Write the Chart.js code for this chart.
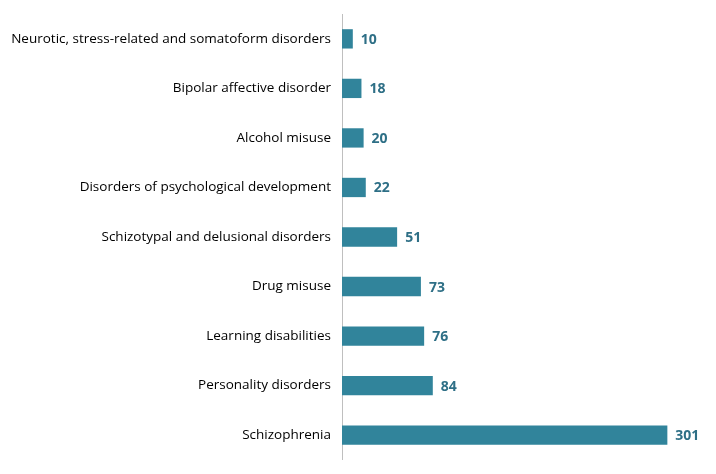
<!DOCTYPE html>
<html><head><meta charset="utf-8">
<script src="https://cdn.jsdelivr.net/npm/chart.js@4"></script>
<style>html,body{margin:0;padding:0;background:#fff}#w{width:716px;height:474px}</style>
</head><body><div id="w"><canvas id="c"></canvas></div>
<script>
const categories = ["Neurotic, stress-related and somatoform disorders","Bipolar affective disorder","Alcohol misuse","Disorders of psychological development","Schizotypal and delusional disorders","Drug misuse","Learning disabilities","Personality disorders","Schizophrenia"];
const values = [10,18,20,22,51,73,76,84,301];
const color = "#31849B";
const labelPlugin = {id:"lbl",afterDatasetsDraw(ch){const ctx=ch.ctx;const m=ch.getDatasetMeta(0);ctx.save();ctx.font="bold 14px 'Open Sans', sans-serif";ctx.fillStyle="#2E6F86";ctx.textBaseline="middle";m.data.forEach((b,i)=>{ctx.fillText(values[i],b.x+8,b.y+1);});ctx.restore();}};
new Chart(document.getElementById("c"),{type:"bar",data:{labels:categories,datasets:[{data:values,backgroundColor:color,barPercentage:0.78,categoryPercentage:0.5}]},
options:{indexAxis:"y",animation:false,responsive:true,maintainAspectRatio:false,layout:{padding:{left:0,right:0,top:3,bottom:-6}},
plugins:{legend:{display:false},tooltip:{enabled:false}},
scales:{x:{display:false,min:0,max:346},
y:{afterFit(s){s.width=342;},grid:{display:false,drawTicks:true,tickLength:5},border:{display:true,color:"#BFBFBF"},ticks:{color:"#000",font:{family:"'Open Sans', sans-serif",size:13.5},padding:6}}}},
plugins:[labelPlugin]});
</script></body></html>
